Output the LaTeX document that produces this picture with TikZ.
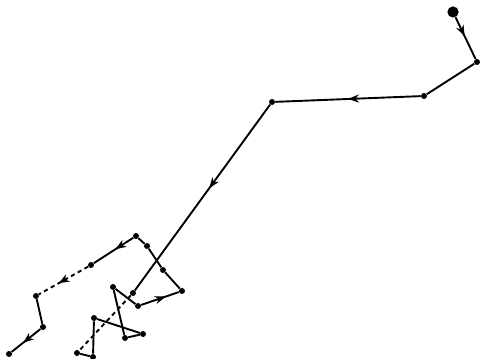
\documentclass[tikz,border=0pt]{standalone}
\usetikzlibrary{arrows.meta, decorations.markings}

\begin{document}
\begin{tikzpicture}[
    x=0.025cm, y=-0.025cm,
    dot/.style={circle, fill, inner sep=0pt, minimum size=1.5mm},
    startdot/.style={circle, fill, inner sep=0pt, minimum size=2.8mm},
    walk/.style={line width=1.35pt},
    jump/.style={line width=1.35pt, dash pattern=on 3pt off 2.5pt},
    arrowat/.style={postaction={decorate}, decoration={markings, mark=at position #1 with {\arrow{Stealth[length=2.7mm, width=2mm]}}}},
]
\useasboundingbox (0,0) rectangle (480,359);

% Start and long steps
\node[startdot] (w0) at (453,12) {};
\node[dot] (w1) at (477,62) {};
\node[dot] (w2) at (424,96) {};
\node[dot] (w3) at (272,102) {};
\node[dot] (w4) at (133,293) {};

% Knot at the bottom
\node[dot] (w5) at (77,353) {};
\node[dot] (w6) at (93,357) {};
\node[dot] (w7) at (94,318) {};
\node[dot] (w8) at (143,334) {};
\node[dot] (w9) at (125,338) {};
\node[dot] (w10) at (113,287) {};
\node[dot] (w11) at (138,306) {};
\node[dot] (w12) at (182,291) {};
\node[dot] (w13) at (163,270) {};
\node[dot] (w14) at (147,246) {};
\node[dot] (w15) at (136,236) {};

% Tail to the left
\node[dot] (w16) at (91,265) {};
\node[dot] (w17) at (36,296) {};
\node[dot] (w18) at (43,327) {};
\node[dot] (w19) at (9,354) {};

% Steps
\draw[walk, arrowat=0.45] (w0) -- (w1);
\draw[walk] (w1) -- (w2);
\draw[walk, arrowat=0.5] (w2) -- (w3);
\draw[walk, arrowat=0.45] (w3) -- (w4);
\draw[jump] (w4) -- (w5);
\draw[walk] (w5) -- (w6);
\draw[walk] (w6) -- (w7);
\draw[walk] (w7) -- (w8);
\draw[walk] (w8) -- (w9);
\draw[walk] (w9) -- (w10);
\draw[walk] (w10) -- (w11);
\draw[walk, arrowat=0.65] (w11) -- (w12);
\draw[walk] (w12) -- (w13);
\draw[walk] (w13) -- (w14);
\draw[walk] (w14) -- (w15);
\draw[walk, arrowat=0.45] (w15) -- (w16);
\draw[jump, arrowat=0.6] (w16) -- (w17);
\draw[walk] (w17) -- (w18);
\draw[walk, arrowat=0.6] (w18) -- (w19);

\end{tikzpicture}
\end{document}
